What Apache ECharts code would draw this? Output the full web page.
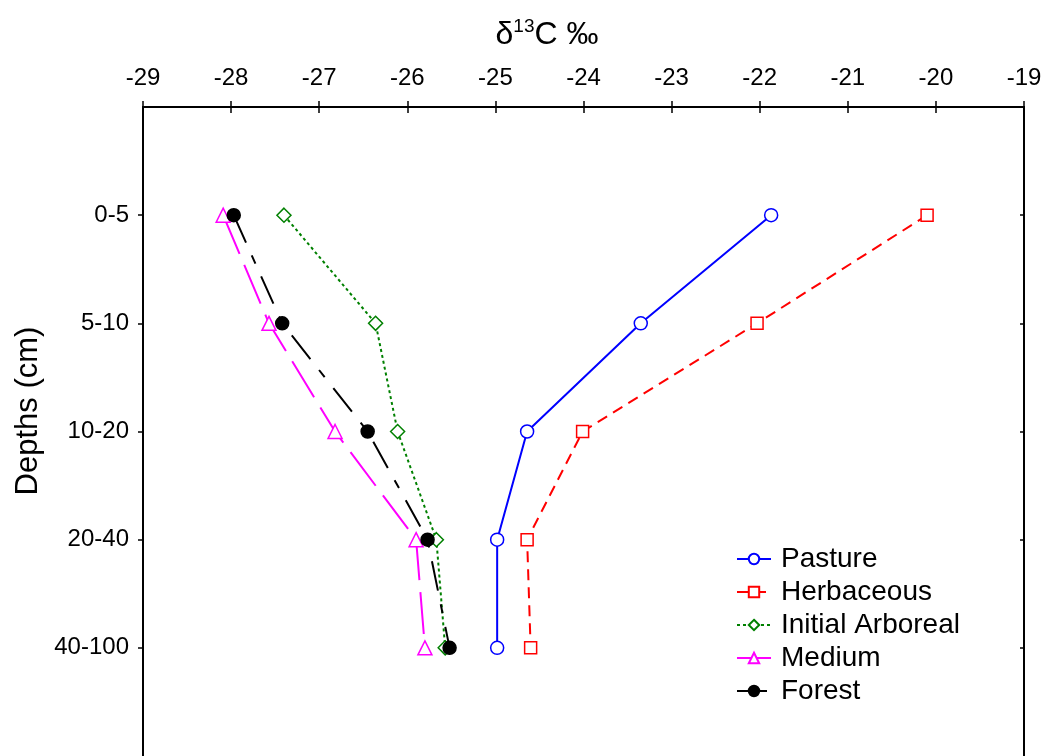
<!DOCTYPE html>
<html>
<head>
<meta charset="utf-8">
<script src="https://cdn.jsdelivr.net/npm/echarts@6/dist/echarts.min.js"></script>
<style>
  html, body { margin: 0; padding: 0; background: #fff; }
  #chart { width: 1050px; height: 756px; }
</style>
</head>
<body>
<div id="chart"></div>
<script>
// depth classes, top to bottom
var depths = ['0-5', '5-10', '10-20', '20-40', '40-100'];
var xTicks = [-29, -28, -27, -26, -25, -24, -23, -22, -21, -20, -19];

// δ13C values per depth
var pasture = [-21.87, -23.35, -24.64, -24.98, -24.98];
var herbaceous = [-20.10, -22.03, -24.01, -24.64, -24.60];
var initialArboreal = [-27.40, -26.36, -26.11, -25.67, -25.57];
var medium = [-28.09, -27.57, -26.82, -25.90, -25.80];
var forest = [-27.97, -27.42, -26.45, -25.77, -25.52];

var font = 'Liberation Sans, Arial, sans-serif';

function pts(vals) {
  return vals.map(function (v, i) { return [v, i + 1]; });
}

function line(name, vals, color, type, symbol, size, fill) {
  return {
    name: name,
    type: 'line',
    data: pts(vals),
    symbol: symbol,
    symbolSize: size,
    showAllSymbol: true,
    lineStyle: { color: color, width: 2, type: type },
    itemStyle: { color: fill || '#fff', borderColor: color, borderWidth: 1.5 },
    emphasis: { disabled: true },
    z: 3
  };
}

var myChart = echarts.init(document.getElementById('chart'));

var option = {
  animation: false,
  backgroundColor: '#fff',
  title: {
    text: '{a|δ}{s|13}{a|C ‰}',
    left: 542,
    top: 12,
    textAlign: 'center',
    textStyle: {
      fontWeight: 'normal',
      rich: {
        a: { fontFamily: font, fontSize: 32, fontWeight: 'normal', color: '#000', verticalAlign: 'bottom', lineHeight: 34 },
        s: { fontFamily: font, fontSize: 19, fontWeight: 'normal', color: '#000', verticalAlign: 'top', lineHeight: 34, padding: [0, 0, 15, 0] }
      }
    }
  },
  graphic: [{
    type: 'text',
    x: 28,
    y: 411,
    rotation: Math.PI / 2,
    style: {
      text: 'Depths (cm)',
      fontFamily: font,
      fontSize: 31,
      fill: '#000',
      align: 'center',
      verticalAlign: 'middle'
    }
  }],
  legend: {
    orient: 'vertical',
    left: 731,
    top: 540,
    itemWidth: 34,
    itemHeight: 13,
    itemGap: 5,
    textStyle: { fontFamily: font, fontSize: 28, color: '#000', lineHeight: 28, padding: [0, 0, 0, 5] },
    data: ['Pasture', 'Herbaceous', 'Initial Arboreal', 'Medium', 'Forest']
  },
  grid: { left: 143, top: 107, width: 881, height: 651 },
  xAxis: [{
    type: 'value',
    position: 'top',
    min: xTicks[0],
    max: xTicks[xTicks.length - 1],
    interval: 1,
    axisLine: { show: true, lineStyle: { color: '#000', width: 2 } },
    axisTick: { show: true, inside: true, length: 6, lineStyle: { color: '#000', width: 1.5 } },
    axisLabel: { fontFamily: font, fontSize: 24, color: '#000', margin: 17 },
    splitLine: { show: false }
  }, {
    type: 'value',
    position: 'bottom',
    min: xTicks[0],
    max: xTicks[xTicks.length - 1],
    interval: 1,
    axisLine: { show: true, lineStyle: { color: '#000', width: 2 } },
    axisTick: { show: true, inside: true, length: 6, lineStyle: { color: '#000', width: 1.5 } },
    axisLabel: { show: false },
    splitLine: { show: false }
  }],
  yAxis: [{
    type: 'value',
    position: 'left',
    inverse: true,
    min: 0,
    max: 6,
    interval: 1,
    axisLine: { show: true, lineStyle: { color: '#000', width: 2 } },
    axisTick: { show: true, length: 5, customValues: [1, 2, 3, 4, 5], lineStyle: { color: '#000', width: 1.5 } },
    axisLabel: {
      fontFamily: font, fontSize: 24, color: '#000', margin: 14,
      customValues: [1, 2, 3, 4, 5],
      formatter: function (v) { return depths[v - 1] || ''; }
    },
    splitLine: { show: false }
  }, {
    type: 'value',
    position: 'right',
    inverse: true,
    min: 0,
    max: 6,
    interval: 1,
    axisLine: { show: true, lineStyle: { color: '#000', width: 2 } },
    axisTick: { show: true, inside: true, length: 4, customValues: [1, 2, 3, 4, 5], lineStyle: { color: '#000', width: 1.5 } },
    axisLabel: { show: false },
    splitLine: { show: false }
  }],
  series: [
    line('Pasture', pasture, '#0000ff', 'solid', 'circle', 13),
    line('Herbaceous', herbaceous, '#ff0000', [11, 7], 'rect', 12),
    line('Initial Arboreal', initialArboreal, '#008000', [3, 3], 'diamond', 14),
    line('Medium', medium, '#ff00ff', [42, 12], 'triangle', 14),
    line('Forest', forest, '#000000', [30, 14, 9, 14], 'circle', 13, '#000')
  ]
};

myChart.setOption(option);
</script>
</body>
</html>
